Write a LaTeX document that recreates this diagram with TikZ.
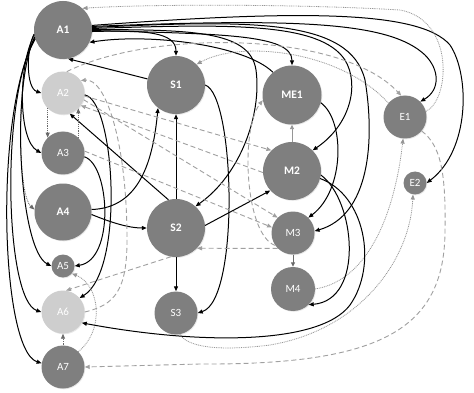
\documentclass[tikz,border=0pt]{standalone}
\usepackage{fontspec}
\setsansfont{Carlito}
\usetikzlibrary{arrows.meta,shadows}
\definecolor{ndgray}{RGB}{127,127,127}
\definecolor{ltgray}{RGB}{206,206,206}
\definecolor{dshgray}{RGB}{160,160,160}
\definecolor{dotgray}{RGB}{105,105,105}
\definecolor{thngray}{RGB}{150,150,150}
\tikzset{
 nd/.style={circle,fill=ndgray,text=white,inner sep=0pt,font=\sffamily\fontsize{11}{12}\selectfont,
   drop shadow={shadow xshift=0.8pt,shadow yshift=-0.8pt,opacity=0.18}},
 bignd/.style={nd,minimum size=58pt,font=\sffamily\bfseries\fontsize{11.5}{12}\selectfont},
 midnd/.style={nd,minimum size=43pt},
 smallnd/.style={nd,minimum size=23pt},
 lightnd/.style={fill=ltgray},
 sol/.style={draw=black,line width=1pt,-{Triangle[length=5pt,width=4pt]}},
 dsh/.style={draw=dshgray,line width=0.9pt,dash pattern=on 5pt off 3pt,-{Triangle[length=5pt,width=4pt,fill=dshgray]}},
 dotl/.style={draw=dotgray,line width=0.8pt,dash pattern=on 0.9pt off 0.9pt,-{Triangle[length=5pt,width=4pt]}},
 thn/.style={draw=thngray,line width=0.9pt,-{Triangle[length=4.5pt,width=4pt]}},
}
\begin{document}
\begin{tikzpicture}[x=1pt,y=-1pt]
\fill[white] (0,0) rectangle (474,393);
\useasboundingbox (0,0) rectangle (474,393);
% nodes
\node[bignd] (A1) at (63,30) {A1};
\node[midnd,lightnd] (A2) at (63,93) {A2};
\node[midnd] (A3) at (63,153) {A3};
\node[bignd,minimum size=57pt] (A4) at (63,212) {A4};
\node[smallnd] (A5) at (63,266) {A5};
\node[midnd,lightnd] (A6) at (63,312) {A6};
\node[midnd] (A7) at (63,367) {A7};
\node[bignd] (S1) at (176,85) {S1};
\node[bignd] (S2) at (176,228) {S2};
\node[midnd] (S3) at (176,313) {S3};
\node[bignd,minimum size=59pt] (ME1) at (292,95) {ME1};
\node[bignd] (M2) at (292,171) {M2};
\node[midnd] (M3) at (293,233) {M3};
\node[midnd,minimum size=44pt] (M4) at (293,289) {M4};
\node[midnd] (E1) at (405,117) {E1};
\node[smallnd] (E2) at (415,183) {E2};
% A1 left bundle
\draw[sol] (A1.188) .. controls (26,50) and (26,88) .. (A2.west);
\draw[sol] (A1.190) .. controls (18,65) and (18,140) .. (A3.west);
\draw[dotl] (A1.192) .. controls (15,80) and (18,195) .. (A4.175);
\draw[sol] (A1.194) .. controls (10,90) and (20,250) .. (A5.west);
\draw[sol] (A1.196) .. controls (0,100) and (5,300) .. (A6.west);
\draw[sol] (A1.198) .. controls (-6,110) and (0,350) .. (A7.170);
% A1 right bundle
\draw[sol] (A1.-3) .. controls (145,30) and (176,32) .. (S1.north);
\draw[sol] (A1.-1) .. controls (220,34) and (292,34) .. (ME1.north);
\draw[sol] (A1.1) .. controls (190,30) and (250,30) .. (256,70) .. controls (262,115) and (240,175) .. (S2.48);
\draw[sol] (A1.3) .. controls (230,24) and (320,22) .. (345,60) .. controls (360,85) and (350,125) .. (M2.45);
\draw[sol] (A1.5) .. controls (250,20) and (350,18) .. (365,80) .. controls (375,140) and (370,215) .. (M3.5);
\draw[sol] (A1.7) .. controls (300,18) and (390,22) .. (425,55) .. controls (440,70) and (440,90) .. (E1.45);
\draw[sol] (A1.9) .. controls (300,10) and (420,10) .. (450,45) .. controls (470,75) and (470,150) .. (E2.east);
% S1 / S2 / A4
\draw[sol] (S1.east) .. controls (235,95) and (240,300) .. (S3.east);
\draw[sol] (A4.5) .. controls (140,208) and (153,160) .. (S1.232);
\draw[sol] (A4.-5) .. controls (110,222) and (128,228) .. (S2.west);
\draw[sol] (S2.north) -- (S1.south);
\draw[sol] (S2.south) -- (S3.north);
\draw[sol] (S2.5) -- (M2.222);
\draw[sol] (S2.105) -- (A2.-72);
\draw[sol] (S1.168) -- (A1.-80);
\draw[sol] (ME1.130) .. controls (245,45) and (150,33) .. (A1.-25);
% A column
\draw[dotl] (A2.-135) -- (A3.135);
\draw[dotl] (A3.45) -- (A2.-45);
\draw[sol] (A3.-10) .. controls (110,165) and (115,260) .. (A5.east);
\draw[sol] (A2.-5) .. controls (115,100) and (125,270) .. (A6.40);
\draw[dotl] (A7.north) -- (A6.south);
\draw[dotl,draw=thngray] (A7.45) .. controls (105,330) and (100,285) .. (A5.-40);
\draw[dsh] (A6.east) .. controls (115,305) and (127,290) .. (127,240) .. controls (127,140) and (105,78) .. (A2.35);
% dashed
\draw[dsh] (A2.80) .. controls (150,30) and (340,30) .. (E1.100);
\draw[dsh] (A2.-8) -- (M2.135);
\draw[dsh] (M2.183) -- (A2.-35);
\draw[dsh] (A2.-18) -- (M3.135);
\draw[dsh] (A3.5) -- (M3.165);
\draw[dsh] (M3.225) -- (S2.-44);
\draw[dsh] (S2.-100) -- (A6.82);
\draw[dsh] (M3.215) .. controls (245,235) and (240,130) .. (ME1.190);
\draw[dsh] (E1.-40) .. controls (440,145) and (446,170) .. (445,230) .. controls (445,330) and (380,365) .. (200,364) -- (A7.east);
% dotted from E nodes
\draw[dotl,draw=thngray] (E1.140) .. controls (340,50) and (240,40) .. (S1.45);
\draw[dotl,draw=thngray] (E1.15) .. controls (450,100) and (455,20) .. (400,10) .. controls (300,4) and (150,4) .. (A1.48);
\draw[dotl,draw=thngray] (M4.east) .. controls (370,280) and (395,210) .. (E1.-95);
\draw[dotl,draw=thngray] (S3.-80) .. controls (190,350) and (230,350) .. (270,345) .. controls (360,330) and (410,260) .. (E2.-100);
% M column
\draw[sol] (M2.-15) .. controls (365,195) and (378,265) .. (350,305) .. controls (320,345) and (200,345) .. (A6.-30);
\draw[sol] (M2.-8) .. controls (355,200) and (365,300) .. (M4.-45);
\draw[sol] (ME1.-15) .. controls (345,120) and (345,190) .. (M3.45);
\draw[thn] (M2.north) -- (ME1.south);
\draw[thn,draw=dotgray] (M3.south) -- (M4.north);
\end{tikzpicture}
\end{document}
